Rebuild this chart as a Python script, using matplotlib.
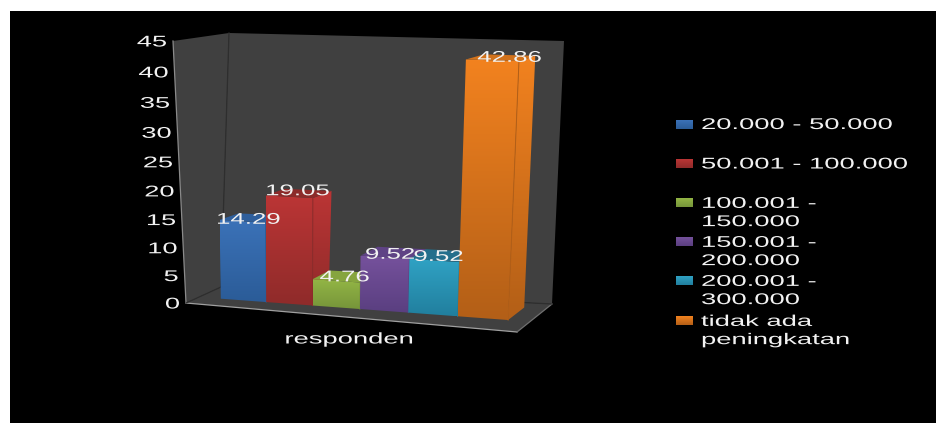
"""Income increase of respondents, drawn as a 3D column chart on a plain 2D axes."""
import numpy as np
import matplotlib
matplotlib.use("Agg")
import matplotlib.pyplot as plt
from matplotlib.patches import Polygon, Rectangle
from matplotlib.patheffects import AbstractPathEffect
from matplotlib.transforms import Affine2D

categories = ["20.000 - 50.000", "50.001 - 100.000", "100.001 -\n150.000",
              "150.001 -\n200.000", "200.001 -\n300.000", "tidak ada\npeningkatan"]
values = [14.29, 19.05, 4.76, 9.52, 9.52, 42.86]
value_labels = ["14.29", "19.05", "4.76", "9.52", "9.52", "42.86"]
yticks = [0, 5, 10, 15, 20, 25, 30, 35, 40, 45]
axis_label = "responden"

top_colors = ["#3b72b8", "#bb3535", "#93b545", "#75519c", "#30a2c4", "#f2821f"]
bottom_colors = ["#2b5c98", "#8f2b2a", "#76953a", "#5a3f80", "#217f9e", "#b35f17"]
roof_colors = ["#2f5f9c", "#8c2b2a", "#86a53e", "#5f4385", "#246f8c", "#d2721b"]

W, H = 936, 423
YMAX = 45.0
V_WARP = 1.07  # values spread out slightly towards the top of the box
X_WARP = 1.066  # columns get slightly wider to the right

# nudges of each value label from the middle of its column's top front edge
label_dx = [5.5, 8, 8, 5, 4, 17]
label_dy = [-2, -6, -4, -3, -4, -3]

# pixel position of the box corners, indexed [x][top][depth]
corners = np.array([
    [[(186, 303), (221, 287)], [(173, 41), (229, 33)]],
    [[(517, 332), (552, 304)], [(530, 52), (564, 41)]],
], float)


class StretchX(AbstractPathEffect):
    """Widen glyph outlines horizontally, the way the chart's text is drawn."""

    def __init__(self, sx):
        super().__init__()
        self.sx = sx

    def draw_path(self, renderer, gc, tpath, affine, rgbFace=None):
        renderer.draw_path(gc, tpath, Affine2D().scale(self.sx, 1) + affine, rgbFace)


def project(x, v, z):
    # blend the eight box corners; x and z run 0-1, v is a data value
    f = v / YMAX
    h = f / (f + (1 - f) * V_WARP)
    out = np.zeros(2)
    for i, wx in enumerate((1 - x, x)):
        for j, wh in enumerate((1 - h, h)):
            for k, wz in enumerate((1 - z, z)):
                out += wx * wh * wz * corners[i, j, k]
    return out[0], out[1]


def face(*pts):
    return [project(*p) for p in pts]


def hex_rgb(c):
    return np.array(matplotlib.colors.to_rgb(c))


def gradient_face(ax, pts, c_top, c_bottom, z):
    pts = np.array(pts)
    ramp = np.linspace(0, 1, 64)[:, None, None]
    img = (1 - ramp) * hex_rgb(c_top)[None, None, :] + ramp * hex_rgb(c_bottom)[None, None, :]
    im = ax.imshow(img, extent=(pts[:, 0].min(), pts[:, 0].max(), pts[:, 1].max(), pts[:, 1].min()),
                   aspect="auto", zorder=z, interpolation="bilinear")
    clip = Polygon(pts, transform=ax.transData, fc="none", ec="none")
    ax.add_patch(clip)
    im.set_clip_path(clip)


def wide_text(ax, x, y, s, sx=1.76, ha="left", **kw):
    t = ax.text(x, y, s, color="#f2f2f2", fontsize=11.2, family="Liberation Sans",
                ha="left", va="center", zorder=20, **kw)
    t.set_path_effects([StretchX(sx)])
    if ha != "left":
        width = t.get_window_extent(fig.canvas.get_renderer()).width * sx
        t.set_x(x - width / 2 if ha == "center" else x - width)
    return t


fig = plt.figure(figsize=(W / 100, H / 100), dpi=100, facecolor="white")
ax = fig.add_axes([0, 0, 1, 1])
ax.set_xlim(0, W)
ax.set_ylim(H, 0)
ax.axis("off")
ax.add_patch(Rectangle((10, 11), W - 10, H - 11, fc="black", ec="none", zorder=0))

# walls and floor
wall = "#404040"
ax.add_patch(Polygon(face((0, 0, 0), (0, 45, 0), (0, 45, 1), (0, 0, 1)), fc=wall, ec="none", zorder=1))
ax.add_patch(Polygon(face((0, 0, 1), (0, 45, 1), (1, 45, 1), (1, 0, 1)), fc=wall, ec="none", zorder=1))
ax.add_patch(Polygon(face((0, 0, 0), (1, 0, 0), (1, 0, 1), (0, 0, 1)), fc=wall, ec="none", zorder=1))
for a, b, col in [((0, 0, 0), (0, 45, 0), "#8a8a8a"), ((0, 0, 0), (1, 0, 0), "#a0a0a0"),
                  ((1, 0, 0), (1, 0, 1), "#707070"), ((0, 0, 1), (0, 45, 1), "#2e2e2e"),
                  ((0, 0, 0), (0, 0, 1), "#2e2e2e"), ((0, 0, 1), (1, 0, 1), "#2e2e2e")]:
    (x0, y0), (x1, y1) = project(*a), project(*b)
    ax.plot([x0, x1], [y0, y1], color=col, lw=0.9, zorder=1.5)

# one column per category, left to right
u = np.linspace(0, 1, len(values) + 1)
x_edges = 0.066 + 0.868 * u / (u + (1 - u) * X_WARP)
z0, z1 = 0.37, 0.83
for i, val in enumerate(values):
    xa, xb = x_edges[i], x_edges[i + 1]
    z = 3 + i
    gradient_face(ax, face((xb, val, z0), (xb, val, z1), (xb, 0, z1), (xb, 0, z0)),
                  top_colors[i], bottom_colors[i], z)
    gradient_face(ax, face((xa, val, z0), (xb, val, z0), (xb, 0, z0), (xa, 0, z0)),
                  top_colors[i], bottom_colors[i], z + 0.1)
    ax.add_patch(Polygon(face((xa, val, z0), (xb, val, z0), (xb, val, z1), (xa, val, z1)),
                         fc=roof_colors[i], ec="none", zorder=z + 0.2))
    (x0, y0), (x1, y1) = project(xb, val, z0), project(xb, 0, z0)
    ax.plot([x0, x1], [y0, y1], color=bottom_colors[i], lw=0.7, zorder=z + 0.3)

for i, (val, lab) in enumerate(zip(values, value_labels)):
    px, py = project((x_edges[i] + x_edges[i + 1]) / 2, val, z0)
    wide_text(ax, px + label_dx[i], py + label_dy[i], lab, sx=1.66, ha="center")

for v in yticks:
    px, py = project(0, v, 0)
    wide_text(ax, px - 6, py + 1, str(v), sx=1.75, ha="right")

wide_text(ax, 349, 339, axis_label, ha="center")

# legend
legend_y = [124.5, 164, 203, 242, 281, 321]
for name, c_top, c_bot, y in zip(categories, top_colors, bottom_colors, legend_y):
    gradient_face(ax, [(676, y - 4.5), (693, y - 4.5), (693, y + 4.5), (676, y + 4.5)], c_top, c_bot, 10)
    offset = 9.5 if "\n" in name else 0
    wide_text(ax, 701, y + offset, name, linespacing=1.27)

ax.set_xlim(0, W)
ax.set_ylim(H, 0)
fig.savefig("out.png", dpi=100, facecolor="white")
